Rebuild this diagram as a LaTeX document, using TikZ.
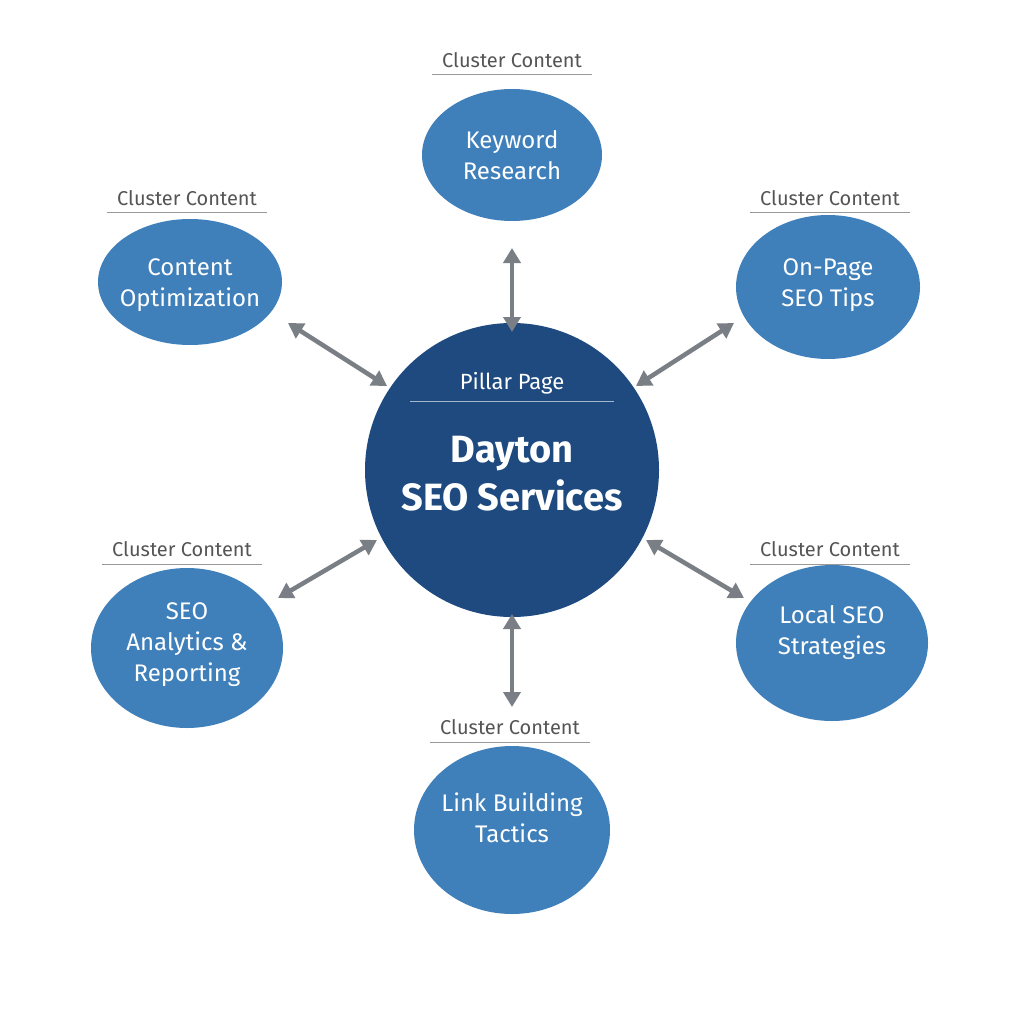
\documentclass[tikz,border=0pt]{standalone}
\usepackage{fontspec}
\setmainfont{Fira Sans}
\usetikzlibrary{arrows.meta,shapes.geometric}
\definecolor{cl}{HTML}{3F80BA}
\definecolor{pil}{HTML}{1E4A80}
\definecolor{ar}{HTML}{7A7F85}
\definecolor{lab}{HTML}{555555}
\begin{document}
\begin{tikzpicture}[x=1pt,y=-1pt,
  ct/.style={text=white,font=\fontsize{24}{31}\selectfont,align=center},
  lbl/.style={text=lab,font=\fontsize{20}{24}\selectfont},
  conn/.style={draw=ar,line width=4.5pt,{Triangle[length=15pt,width=17pt]}-{Triangle[length=15pt,width=17pt]}}]
\useasboundingbox (0,0) rectangle (1024,1024);
\fill[white] (0,0) rectangle (1024,1024);
\fill[cl] (512,155) ellipse (90 and 66);
\fill[cl] (190,282) ellipse (92 and 63);
\fill[cl] (828,287) ellipse (92 and 72);
\fill[cl] (187,648) ellipse (96 and 80);
\fill[cl] (832,643) ellipse (96 and 78);
\fill[cl] (512,830) ellipse (98 and 84);
\fill[pil] (512,470) circle (147);
\node[ct] (kw) at (512,155) {Keyword\\Research};
\node[ct] (co) at (190,285) {Content\\Optimization};
\node[ct] (op) at (828,285) {On-Page\\SEO Tips};
\node[ct] (an) at (187,645) {SEO\\Analytics \&\\Reporting};
\node[ct] (lo) at (832,633) {Local SEO\\Strategies};
\node[ct] (lb) at (512,818) {Link Building\\Tactics};
\node[text=white,font=\fontsize{22}{26}\selectfont] (pp) at (512,383) {Pillar Page};
\draw[white!60!pil,line width=1pt] (410,401) -- (614,401);
\node[text=white,font=\fontsize{38}{48}\selectfont\bfseries,align=center] (ds) at (512,474) {Dayton\\SEO Services};
\foreach \x/\y/\n in {512/60/l1,187/198/l2,830/198/l3,182/549/l4,830/549/l5,510/727/l6}{
  \node[lbl] (\n) at (\x,\y) {Cluster Content};
  \draw[lab!60,line width=1pt] (\x-80,\y+15) -- (\x+80,\y+15);
}
\coordinate (a1) at (512,248); \coordinate (b1) at (512,332);
\coordinate (a2) at (288,323); \coordinate (b2) at (387,386);
\coordinate (a3) at (734,323); \coordinate (b3) at (636,386);
\coordinate (a4) at (278,598); \coordinate (b4) at (377,540);
\coordinate (a5) at (646,540); \coordinate (b5) at (744,598);
\coordinate (a6) at (512,614); \coordinate (b6) at (512,707);
\foreach \i in {1,...,6}{\draw[conn] (a\i) -- (b\i);}
\end{tikzpicture}
\end{document}
